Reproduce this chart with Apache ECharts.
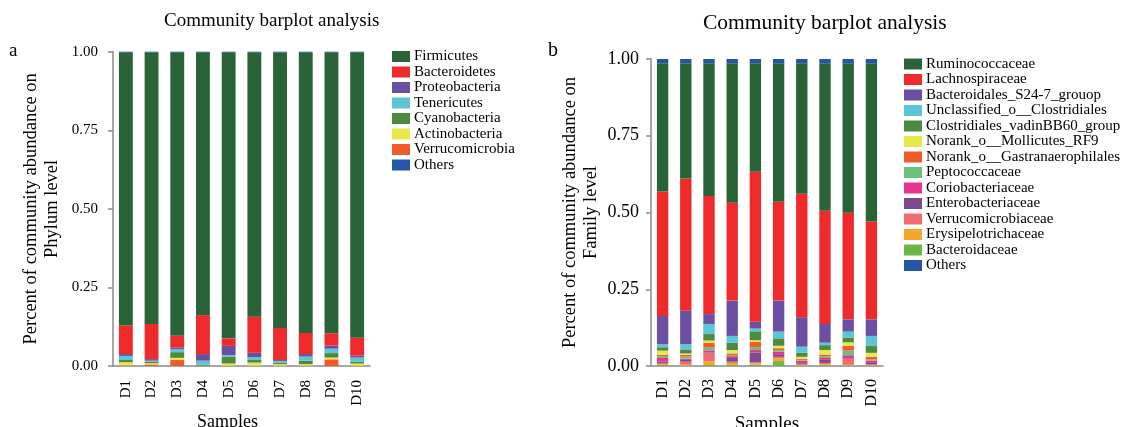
<!DOCTYPE html>
<html>
<head>
<meta charset="utf-8">
<script src="https://cdn.jsdelivr.net/npm/echarts@6/dist/echarts.min.js"></script>
<style>
  html, body { margin: 0; padding: 0; background: #fff; }
  #chart { width: 1139px; height: 427px; }
</style>
</head>
<body>
<div id="chart"></div>
<script>
// samples on the x axis (both panels)
const samples = ['D1', 'D2', 'D3', 'D4', 'D5', 'D6', 'D7', 'D8', 'D9', 'D10']
const yTicks = [0, 0.25, 0.5, 0.75, 1]

// panel a - phylum level (legend order)
const phylumNames = ['Firmicutes', 'Bacteroidetes', 'Proteobacteria', 'Tenericutes', 'Cyanobacteria', 'Actinobacteria', 'Verrucomicrobia', 'Others']
const firmicutes = [0.869, 0.864, 0.902, 0.836, 0.910, 0.841, 0.877, 0.893, 0.894, 0.908]
const bacteroidetes = [0.091, 0.112, 0.037, 0.124, 0.024, 0.115, 0.102, 0.067, 0.039, 0.057]
const proteobacteria = [0.006, 0.005, 0.006, 0.021, 0.029, 0.014, 0.003, 0.008, 0.010, 0.006]
const tenericutes = [0.013, 0.004, 0.009, 0.013, 0.006, 0.009, 0.006, 0.013, 0.014, 0.013]
const cyanobacteria = [0.007, 0.004, 0.018, 0.003, 0.021, 0.008, 0.004, 0.011, 0.014, 0.006]
const actinobacteria = [0.010, 0.004, 0.007, 0.001, 0.007, 0.010, 0.005, 0.005, 0.006, 0.007]
const verrucomicrobia = [0.002, 0.005, 0.019, 0.000, 0.001, 0.001, 0.001, 0.001, 0.021, 0.001]
const phylumOthers = [0.002, 0.002, 0.002, 0.002, 0.002, 0.002, 0.002, 0.002, 0.002, 0.002]
const phylumValues = [firmicutes, bacteroidetes, proteobacteria, tenericutes, cyanobacteria, actinobacteria, verrucomicrobia, phylumOthers]

// panel b - family level (legend order)
const familyNames = ['Ruminococcaceae', 'Lachnospiraceae', 'Bacteroidales_S24-7_grouop', 'Unclassified_o__Clostridiales',
  'Clostridiales_vadinBB60_group', 'Norank_o__Mollicutes_RF9', 'Norank_o__Gastranaerophilales', 'Peptococcaceae',
  'Coriobacteriaceae', 'Enterobacteriaceae', 'Verrucomicrobiaceae', 'Erysipelotrichaceae', 'Bacteroidaceae', 'Others']
const ruminococcaceae = [0.418, 0.375, 0.432, 0.454, 0.353, 0.451, 0.425, 0.480, 0.487, 0.515]
const lachnospiraceae = [0.405, 0.431, 0.385, 0.319, 0.489, 0.322, 0.402, 0.369, 0.347, 0.319]
const s24_7 = [0.092, 0.109, 0.032, 0.115, 0.022, 0.101, 0.096, 0.061, 0.040, 0.054]
const unclassifiedClostridiales = [0.010, 0.017, 0.033, 0.022, 0.009, 0.022, 0.020, 0.008, 0.019, 0.033]
const vadinBB60 = [0.011, 0.013, 0.021, 0.024, 0.029, 0.024, 0.013, 0.016, 0.016, 0.022]
const mollicutes = [0.013, 0.004, 0.008, 0.011, 0.005, 0.008, 0.006, 0.015, 0.011, 0.013]
const gastranaerophilales = [0.005, 0.006, 0.015, 0.005, 0.017, 0.006, 0.004, 0.006, 0.016, 0.008]
const peptococcaceae = [0.006, 0.007, 0.009, 0.004, 0.010, 0.006, 0.003, 0.005, 0.015, 0.004]
const coriobacteriaceae = [0.012, 0.004, 0.006, 0.006, 0.008, 0.010, 0.008, 0.006, 0.010, 0.008]
const enterobacteriaceae = [0.004, 0.006, 0.002, 0.012, 0.032, 0.006, 0.003, 0.010, 0.002, 0.005]
const verrucomicrobiaceae = [0.004, 0.010, 0.028, 0.004, 0.004, 0.005, 0.003, 0.004, 0.019, 0.002]
const erysipelotrichaceae = [0.003, 0.003, 0.012, 0.007, 0.003, 0.009, 0.002, 0.004, 0.002, 0.002]
const bacteroidaceae = [0.003, 0.001, 0.003, 0.003, 0.005, 0.016, 0.001, 0.002, 0.002, 0.001]
const familyOthers = [0.014, 0.014, 0.014, 0.014, 0.014, 0.014, 0.014, 0.014, 0.014, 0.014]
const familyValues = [ruminococcaceae, lachnospiraceae, s24_7, unclassifiedClostridiales, vadinBB60, mollicutes,
  gastranaerophilales, peptococcaceae, coriobacteriaceae, enterobacteriaceae, verrucomicrobiaceae,
  erysipelotrichaceae, bacteroidaceae, familyOthers]

const phylumColors = ['#2a6337', '#ee2a2a', '#6a4fa2', '#5cc6d6', '#4c8b3e', '#e8e84c', '#f15a2b', '#2356a4']
const familyColors = ['#2a6337', '#ee2a2a', '#6a4fa2', '#5cc6d6', '#4c8b3e', '#e8e84c', '#f15a2b', '#6cc07a',
  '#e6348f', '#7e4a8e', '#ef6b70', '#f5a62e', '#6bb845', '#2356a4']

const FONT = 'Liberation Serif'
const AXIS_COLOR = '#8a8a8a'

// per-panel text sizes (panel b is drawn a bit larger in the original)
const panelStyle = [
  {yTick: 15, xTick: 15, xName: 18, xMargin: 14, yMargin: 15, nameGap: 50, barWidth: '54%', xNamePad: [0, 28, 0, 0]},
  {yTick: 18, xTick: 16, xName: 19, xMargin: 13, yMargin: 12, nameGap: 49, barWidth: '49%', xNamePad: [0, 0, 0, 0]},
]

// stacking goes bottom-up: reverse the legend order, but "Others" sits on top
function buildSeries(names, values, colors, idx) {
  const order = names.map((n, i) => i)
  const othersIdx = order.pop()
  order.reverse().push(othersIdx)
  return order.map(i => ({
    name: names[i],
    type: 'bar',
    stack: 'stack' + idx,
    xAxisIndex: idx,
    yAxisIndex: idx,
    barWidth: panelStyle[idx].barWidth,
    itemStyle: {color: colors[i]},
    data: values[i],
  }))
}

function xAxis(idx) {
  const s = panelStyle[idx]
  return {
    type: 'category',
    gridIndex: idx,
    data: samples,
    name: 'Samples',
    nameLocation: 'middle',
    nameGap: 47,
    nameTextStyle: {fontFamily: FONT, fontSize: s.xName, color: '#000', padding: s.xNamePad},
    axisLine: {lineStyle: {color: AXIS_COLOR, width: 1.5}},
    axisTick: {length: 6, lineStyle: {color: AXIS_COLOR, width: 1.5}},
    axisLabel: {interval: 0, rotate: 90, fontFamily: FONT, fontSize: s.xTick, color: '#000', margin: s.xMargin},
  }
}

function yAxis(idx, level) {
  const s = panelStyle[idx]
  return {
    type: 'value',
    gridIndex: idx,
    min: yTicks[0],
    max: yTicks[yTicks.length - 1],
    interval: 0.25,
    name: 'Percent of community abundance on\n' + level + ' level',
    nameLocation: 'middle',
    nameRotate: 90,
    nameGap: s.nameGap,
    nameTextStyle: {fontFamily: FONT, fontSize: 18.5, color: '#000', lineHeight: 21},
    axisLine: {show: true, lineStyle: {color: AXIS_COLOR, width: 1.5}},
    axisTick: {show: true, length: 5, lineStyle: {color: AXIS_COLOR, width: 1.5}},
    splitLine: {show: false},
    axisLabel: {fontFamily: FONT, fontSize: s.yTick, color: '#000', margin: s.yMargin, formatter: v => v.toFixed(2)},
  }
}

function legend(names, left, top) {
  return {
    orient: 'vertical',
    left,
    top,
    padding: 0,
    data: names,
    icon: 'rect',
    itemWidth: 18,
    itemHeight: 11,
    itemGap: 0.5,
    selectedMode: false,
    textStyle: {fontFamily: FONT, fontSize: 15, color: '#000', lineHeight: 15, padding: [0, 0, 0, -1]},
  }
}

const chart = echarts.init(document.getElementById('chart'))

chart.setOption({
  animation: false,
  grid: [
    {left: 113, top: 51.7, width: 257, height: 314.3, outerBoundsMode: 'none'},
    {left: 651, top: 59, width: 232, height: 307, outerBoundsMode: 'none'},
  ],
  xAxis: [xAxis(0), xAxis(1)],
  yAxis: [yAxis(0, 'Phylum'), yAxis(1, 'Family')],
  legend: [legend(phylumNames, 392, 49), legend(familyNames, 904, 56.5)],
  graphic: [
    {type: 'text', left: 164, top: 12, style: {text: 'Community barplot analysis', font: '19px ' + FONT, fill: '#000'}},
    {type: 'text', left: 703, top: 12, style: {text: 'Community barplot analysis', font: '21.5px ' + FONT, fill: '#000'}},
    {type: 'text', left: 9, top: 42, style: {text: 'a', font: '19px ' + FONT, fill: '#000'}},
    {type: 'text', left: 548, top: 41, style: {text: 'b', font: '20px ' + FONT, fill: '#000'}},
  ],
  series: [
    ...buildSeries(phylumNames, phylumValues, phylumColors, 0),
    ...buildSeries(familyNames, familyValues, familyColors, 1),
  ],
})
</script>
</body>
</html>
